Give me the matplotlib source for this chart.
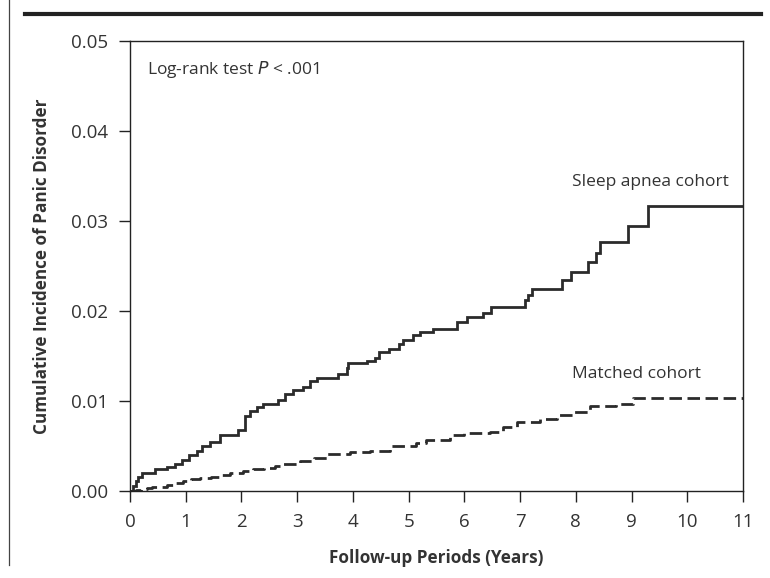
import numpy as np
import matplotlib
matplotlib.use('Agg')
import matplotlib.pyplot as plt
from matplotlib.lines import Line2D

plt.rcParams['font.family'] = ['Open Sans', 'DejaVu Sans']

# Kaplan-Meier style cumulative incidence
apnea_t = [0, 0.05, 0.1, 0.15, 0.21, 0.45, 0.66, 0.8, 0.93, 1.05, 1.2, 1.29, 1.44,
           1.62, 1.94, 2.06, 2.15, 2.27, 2.39, 2.66, 2.78, 2.93, 3.11, 3.23, 3.35,
           3.74, 3.89, 3.92, 4.25, 4.4, 4.46, 4.64, 4.82, 4.9, 5.08, 5.2, 5.44,
           5.86, 6.04, 6.34, 6.47, 7.09, 7.15, 7.21, 7.75, 7.91, 8.21, 8.37, 8.43,
           8.94, 9.29, 11]
apnea_v = [0, 0.0006, 0.0011, 0.0016, 0.0020, 0.0024, 0.0027, 0.0030, 0.0035,
           0.0040, 0.0044, 0.0050, 0.0055, 0.0062, 0.0068, 0.0083, 0.0089, 0.0093,
           0.0097, 0.0101, 0.0108, 0.0112, 0.0116, 0.0122, 0.0126, 0.0130, 0.0137,
           0.0142, 0.0145, 0.0148, 0.0154, 0.0158, 0.0163, 0.0168, 0.0173, 0.0177,
           0.0180, 0.0188, 0.0193, 0.0198, 0.0205, 0.0212, 0.0218, 0.0225, 0.0234,
           0.0243, 0.0254, 0.0264, 0.0277, 0.0294, 0.0317, 0.0317]

matched_t = [0, 0.1, 0.2, 0.3, 0.4, 0.55, 0.66, 0.8, 0.96, 1.1, 1.26, 1.45, 1.6,
             1.8, 2.03, 2.2, 2.4, 2.6, 2.75, 3.05, 3.3, 3.53, 3.95, 4.3, 4.55,
             4.66, 5.14, 5.32, 5.74, 6.0, 6.46, 6.7, 6.94, 7.36, 7.66, 7.95, 8.25,
             8.73, 9.03, 11]
matched_v = [0, 0.0001, 0.0002, 0.0003, 0.0004, 0.0005, 0.0007, 0.0009, 0.0011,
             0.0013, 0.0015, 0.0016, 0.0018, 0.0020, 0.0022, 0.0024, 0.0026,
             0.0028, 0.0030, 0.0033, 0.0037, 0.0041, 0.0043, 0.0044, 0.0045,
             0.0050, 0.0053, 0.0057, 0.0062, 0.0064, 0.0066, 0.0071, 0.0077,
             0.0080, 0.0084, 0.0088, 0.0095, 0.0097, 0.0103, 0.0103]

xticks = list(range(0, 12))
yticks = [0.00, 0.01, 0.02, 0.03, 0.04, 0.05]

txt = '#333333'
ink = '#2b2b2b'

fig = plt.figure(figsize=(7.7, 5.78), dpi=100)
ax = fig.add_axes([130/770, 87/578, 613/770, 450/578])

ax.plot(apnea_t, apnea_v, drawstyle='steps-post', color=ink, lw=2.0,
        solid_joinstyle='miter')
ax.plot(matched_t, matched_v, drawstyle='steps-post', color=ink, lw=2.0,
        ls=(0, (4.5, 2.0)))

ax.set_xlim(0, 11)
ax.set_ylim(0, 0.05)
ax.set_xticks(xticks)
ax.set_yticks(yticks)
ax.set_yticklabels(['%.2f' % y for y in yticks])
ax.tick_params(direction='out', length=8, width=1, color='#222222',
               labelsize=13.5, labelcolor=txt, pad=7.5)
for s in ax.spines.values():
    s.set_linewidth(1.0)
    s.set_color('#222222')

ax.set_xlabel('Follow-up Periods (Years)', fontsize=12.3, fontweight='bold',
              color=txt, labelpad=13)
ax.set_ylabel('Cumulative Incidence of Panic Disorder', fontsize=12.3,
              fontweight='bold', color=txt, labelpad=15)

ax.text(0.3, 0.0468, 'Log-rank test $P$ < .001', fontsize=12.5, color=txt,
        va='center', ha='left')
ax.text(7.93, 0.0343, 'Sleep apnea cohort', fontsize=12.5, color=txt,
        va='center', ha='left')
ax.text(7.93, 0.0130, 'Matched cohort', fontsize=12.5, color=txt,
        va='center', ha='left')

# page decorations: rule across the top and the left margin line
fig.add_artist(Line2D([25/770, 761/770], [1 - 14/578, 1 - 14/578],
                      color='#222222', lw=3))
fig.add_artist(Line2D([9/770, 9/770], [1.0, 1 - 565/578],
                      color='#444444', lw=0.9))

fig.savefig('out.png', dpi=100)
